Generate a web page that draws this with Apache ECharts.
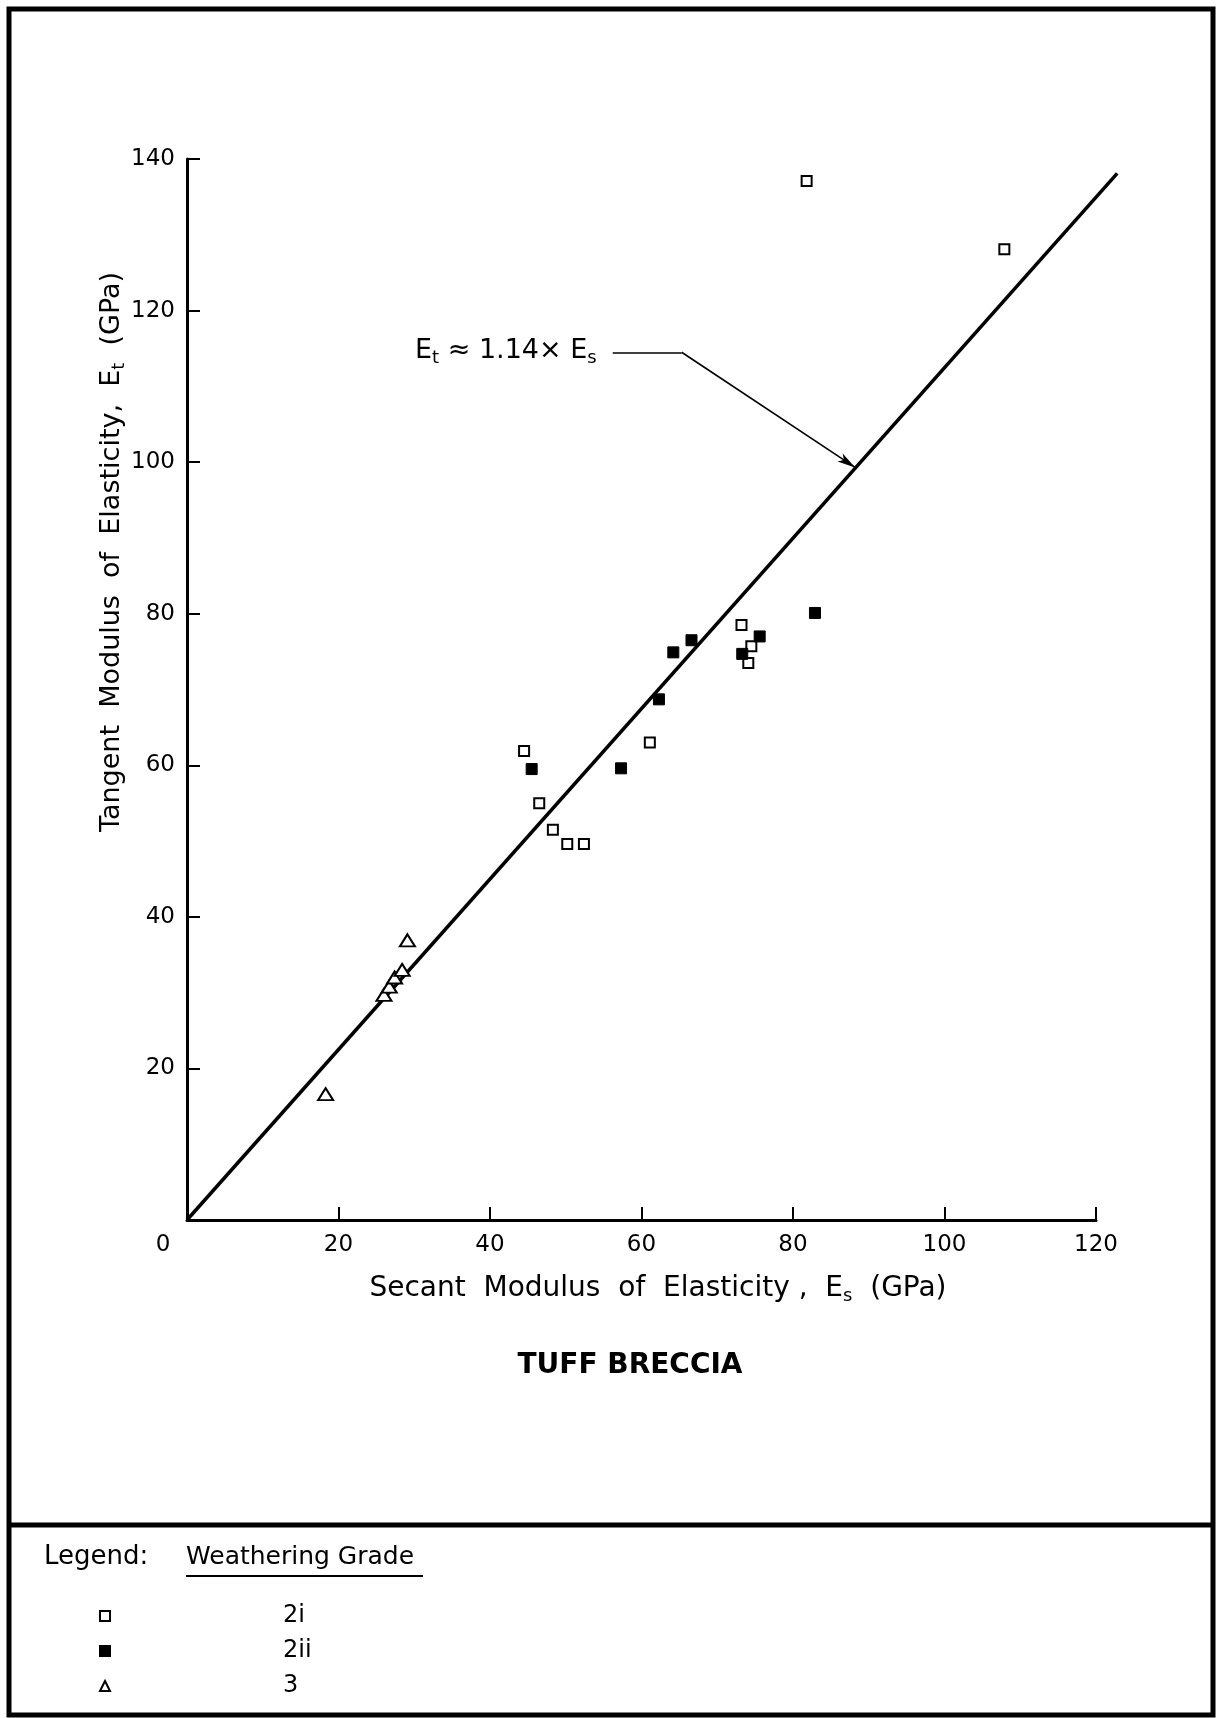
<!DOCTYPE html>
<html>
<head>
<meta charset="utf-8">
<script src="https://cdn.jsdelivr.net/npm/echarts@6/dist/echarts.min.js"></script>
<style>
html,body{margin:0;padding:0;background:#ffffff;}
#chart{width:1217px;height:1718px;}
</style>
</head>
<body>
<div id="chart"></div>
<script>
// ---- data ----
const grade2i = [[44.5,61.9],[46.5,55.0],[48.3,51.5],[50.2,49.6],[52.4,49.6],[61.1,63.0],[73.2,78.5],[74.5,75.7],[74.1,73.5],[81.8,137.1],[107.9,128.1]];
const grade2ii = [[45.5,59.5],[57.3,59.6],[62.3,68.7],[64.2,74.9],[66.6,76.5],[73.3,74.7],[75.6,77.0],[82.9,80.1]];
const grade3 = [[18.3,16.6],[26.0,29.7],[26.7,30.8],[27.4,32.0],[28.4,33.0],[29.1,36.9]];
const fitLine = [[0,0],[122.8,138.1]];
const leaderLine = [[56.2,114.5],[65.3,114.5],[88.2,99.3]];
const xTicks = [0,20,40,60,80,100,120];
const yTicks = [0,20,40,60,80,100,120,140];
const seriesNames = ['2i','2ii','3'];

const FONT = 'DejaVu Sans';
const chart = echarts.init(document.getElementById('chart'), null, {renderer:'canvas'});

function subRich(size, subSize){
  return {
    m:{fontFamily:FONT,fontSize:size,color:'#000',lineHeight:size+3,verticalAlign:'top'},
    s:{fontFamily:FONT,fontSize:subSize,color:'#000',lineHeight:subSize,padding:[size-8,0,0,0],verticalAlign:'bottom'}
  };
}

const staticGraphics = [
  {type:'rect', shape:{x:9, y:9, width:1204, height:1706}, style:{fill:'none', stroke:'#000', lineWidth:5}, silent:true},
  {type:'line', shape:{x1:9, y1:1525, x2:1213, y2:1525}, style:{stroke:'#000', lineWidth:5}, silent:true},
  {type:'text', x:415, y:352, silent:true,
    style:{text:'{m|E}{s|t}{m| ≈ 1.14× E}{s|s}', rich:subRich(27,18), textAlign:'left', textVerticalAlign:'middle', align:'left', verticalAlign:'middle'}},
  {type:'text', x:658, y:1290, silent:true,
    style:{text:'{m|Secant  Modulus  of  Elasticity ,  E}{s|s}{m|  (GPa)}', rich:subRich(28,18), textAlign:'center', textVerticalAlign:'middle', align:'center', verticalAlign:'middle'}},
  {type:'text', x:113, y:552, rotation:Math.PI/2, silent:true,
    style:{text:'{m|Tangent  Modulus  of  Elasticity,  E}{s|t}{m|  (GPa)}', rich:subRich(27,18), textAlign:'center', textVerticalAlign:'middle', align:'center', verticalAlign:'middle'}},
  {type:'text', x:630, y:1366, silent:true,
    style:{text:'TUFF BRECCIA', fontFamily:FONT, fontSize:28, fontWeight:'bold', fill:'#000', textAlign:'center', textVerticalAlign:'middle', align:'center', verticalAlign:'middle'}},
  {type:'text', x:44, y:1557, silent:true,
    style:{text:'Legend:', fontFamily:FONT, fontSize:26, fill:'#000', textAlign:'left', textVerticalAlign:'middle', align:'left', verticalAlign:'middle'}},
  {type:'text', x:186, y:1557, silent:true,
    style:{text:'Weathering Grade', fontFamily:FONT, fontSize:25, fill:'#000', textAlign:'left', textVerticalAlign:'middle', align:'left', verticalAlign:'middle'}},
  {type:'line', shape:{x1:186, y1:1576, x2:423, y2:1576}, style:{stroke:'#000', lineWidth:2}, silent:true}
];

const option = {
  animation:false,
  backgroundColor:'#ffffff',
  grid:{left:187, top:159, right:121, bottom:498, containLabel:false},
  xAxis:{
    type:'value', min:xTicks[0], max:xTicks[xTicks.length-1], interval:xTicks[1]-xTicks[0],
    axisLine:{show:true, onZero:false, lineStyle:{color:'#000', width:3}},
    axisTick:{show:true, inside:true, length:13, lineStyle:{color:'#000', width:2}},
    splitLine:{show:false},
    axisLabel:{
      margin:14, color:'#000', fontFamily:FONT, fontSize:23,
      formatter:v => v===0 ? '{z|0}' : String(v),
      rich:{z:{fontFamily:FONT,fontSize:23,color:'#000',padding:[0,48,0,0]}}
    }
  },
  yAxis:{
    type:'value', min:yTicks[0], max:yTicks[yTicks.length-1], interval:yTicks[1]-yTicks[0],
    axisLine:{show:true, onZero:false, lineStyle:{color:'#000', width:3}},
    axisTick:{show:true, inside:true, length:13, lineStyle:{color:'#000', width:2}},
    splitLine:{show:false},
    axisLabel:{margin:12, color:'#000', fontFamily:FONT, fontSize:23,
      formatter:v => v===0 ? '' : String(v)}
  },
  legend:{
    orient:'vertical', left:94, top:1599, itemWidth:10, itemHeight:10, itemGap:11,
    selectedMode:false, data:seriesNames,
    formatter:n => '{p|}{t|' + n + '}',
    textStyle:{rich:{p:{width:168}, t:{fontFamily:FONT,fontSize:24,color:'#000',lineHeight:26}}}
  },
  series:[
    {
      name:seriesNames[0], type:'scatter', data:grade2i, symbol:'rect', symbolSize:10, z:3,
      itemStyle:{color:'#fff', borderColor:'#000', borderWidth:2, opacity:1},
      markLine:{
        silent:true, symbol:['none','none'], animation:false,
        label:{show:false},
        lineStyle:{color:'#000', width:1.6, type:'solid', opacity:1},
        emphasis:{disabled:true},
        data:[
          [{coord:leaderLine[0]},{coord:leaderLine[1]}],
          [{coord:leaderLine[1]},{coord:leaderLine[2], symbol:'arrow', symbolSize:[7,18]}]
        ]
      }
    },
    {
      name:seriesNames[1], type:'scatter', data:grade2ii, symbol:'rect', symbolSize:11, z:3,
      itemStyle:{color:'#000', borderColor:'#000', borderWidth:1, opacity:1}
    },
    {
      name:seriesNames[2], type:'scatter', data:grade3, symbol:'triangle', symbolSize:[15,12], z:3,
      itemStyle:{color:'#fff', borderColor:'#000', borderWidth:2, opacity:1}
    }
  ],
  graphic:staticGraphics
};
chart.setOption(option);

// Fit line E_t = 1.14 x E_s, placed through the chart's own axis scales (it runs past x = 120, as in the original).
const fitPts = fitLine.map(p => chart.convertToPixel({gridIndex:0}, p));
chart.setOption({
  graphic: staticGraphics.concat([
    {type:'polyline', z:1, silent:true, shape:{points:fitPts}, style:{stroke:'#000', lineWidth:3.5, fill:null}}
  ])
}, {replaceMerge:['graphic']});
</script>
</body>
</html>
